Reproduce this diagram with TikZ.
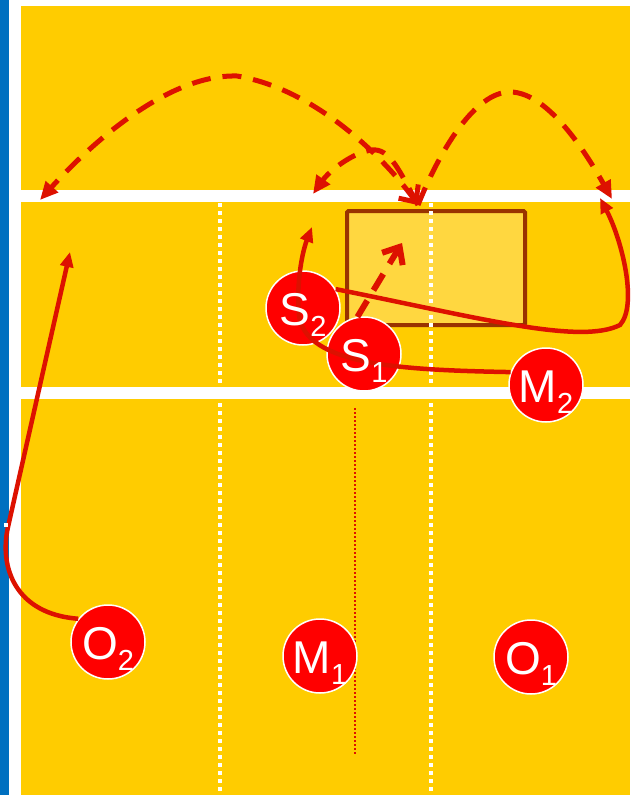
\documentclass[tikz,border=0pt]{standalone}
\usepackage{fontspec}
\setmainfont{Liberation Sans}
\usepackage{tikz}
\usetikzlibrary{arrows.meta}
\definecolor{court}{HTML}{FFCC00}
\definecolor{zone}{HTML}{FFD740}
\definecolor{zoneline}{HTML}{993300}
\definecolor{track}{HTML}{DD1100}
\definecolor{redp}{HTML}{FF0000}
\definecolor{side}{HTML}{0070C0}
\newcommand{\plab}[2]{#1\raisebox{-11pt}{\fontsize{29}{29}\selectfont #2}}

\begin{document}
\begin{tikzpicture}[x=1pt,y=-1pt,player/.style={circle,draw=white,line width=1.5pt,fill=redp,minimum size=74pt,inner sep=0pt},lbl/.style={text=white,anchor=base,yshift=-17pt,inner sep=0pt,font=\fontsize{46}{46}\selectfont},run/.style={draw=track,line width=4.5pt,-{Triangle[length=15pt,width=13pt]}},ball/.style={draw=track,line width=5pt,dash pattern=on 19pt off 12pt,-{Triangle[length=18pt,width=16pt]}}]
			
			\useasboundingbox (0,0) rectangle (630,795);
			\fill[white] (0,0) rectangle (630,795);
			\fill[side] (0,0) rectangle (9,795);
			\fill[court] (21,6) rectangle (630,190);
			\fill[court] (21,202) rectangle (630,387);
			\fill[court] (21,399) rectangle (630,795);
			\filldraw[fill=zone,draw=zoneline,line width=4pt,rounded corners=1.5pt] (347,211) rectangle (525,325);
			
			\foreach \xx in {220,431}
			\draw[white,line width=3.5pt,dash pattern=on 4pt off 4pt] (\xx,203) -- (\xx,795);
			\draw[track,line width=1.5pt,dash pattern=on 2pt off 2pt] (355,408) -- (355,755);
			
			\node[player] (s2) at (303,308) {};
			\node[player] (s1) at (364,354) {};
			\node[player] (m2) at (546,385) {};
			\node[player] (o2) at (108,642) {};
			\node[player] (m1) at (320,656) {};
			\node[player] (o1) at (531,657) {};
			
			\coordinate (t1) at (70,252);
			\coordinate (t2) at (312,227);
			\coordinate (t3) at (600,198);
			\coordinate (t4) at (402,243);
			\coordinate (b0) at (418,205);
			\coordinate (b1) at (40,200);
			\coordinate (b2) at (313,194);
			\coordinate (b3) at (612,199);
			
			\draw[run] (o2.142) .. controls (15,614) and (-1,567) .. (8,527) -- (t1);
			\draw[run] (m2.160) .. controls (400,370) and (305,365) .. (299,315) .. controls (296,280) and (303,250) .. (t2);
			\draw[run] (s2.30) .. controls (480,318) and (580,345) .. (620,325) .. controls (638,305) and (622,240) .. (t3);
			\draw[ball,line width=6pt,-{Straight Barb[length=14pt,width=24pt]}] (s1.100) -- (t4);
			
			\draw[ball,{Straight Barb[length=13pt,width=24pt]}-{Triangle[length=18pt,width=16pt]}] (b0) .. controls (390,165) and (320,90) .. (237,76) .. controls (165,74) and (85,150) .. (b1);
			\draw[ball] (b0) .. controls (400,172) and (390,148) .. (372,150) .. controls (354,152) and (330,170) .. (b2);
			\draw[ball] (b0) .. controls (440,150) and (475,92) .. (510,92) .. controls (550,92) and (590,160) .. (b3);
			
			\node[lbl] at (s2) {\plab{S}{2}};
			\node[lbl] at (s1) {\plab{S}{1}};
			\node[lbl] at (m2) {\plab{M}{2}};
			\node[lbl] at (o2) {\plab{O}{2}};
			\node[lbl] at (m1) {\plab{M}{1}};
			\node[lbl] at (o1) {\plab{O}{1}};
			\fill[white] (4,523) rectangle (8,527);
			
			\end{tikzpicture}
\end{document}
